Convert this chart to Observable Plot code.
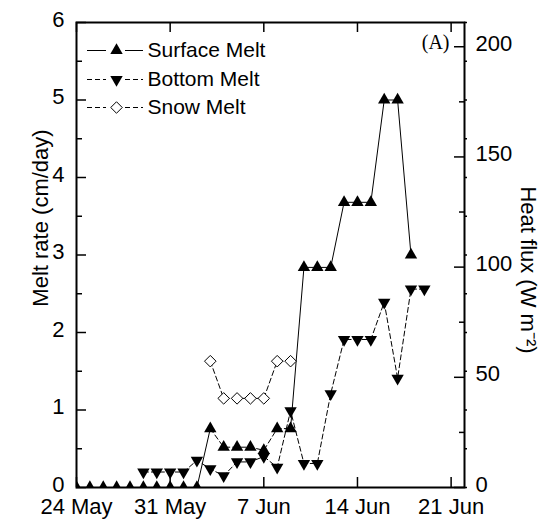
<!DOCTYPE html>
<html><head><meta charset="utf-8">
<script src="https://cdn.jsdelivr.net/npm/d3@7"></script>
<script src="https://cdn.jsdelivr.net/npm/@observablehq/plot@0.6"></script>
<style>body{margin:0;background:#fff}#chart{width:550px;height:520px}</style>
</head><body><div id="chart"></div>
<script>
// ---- data ----
const surfaceDates = ["2007-05-24","2007-05-25","2007-05-26","2007-05-27","2007-05-28","2007-05-29","2007-05-30","2007-05-31","2007-06-01","2007-06-02","2007-06-03","2007-06-04","2007-06-05","2007-06-06","2007-06-07","2007-06-08","2007-06-09","2007-06-10","2007-06-11","2007-06-12","2007-06-13","2007-06-14","2007-06-15","2007-06-16","2007-06-17","2007-06-18"];
const surfaceMelt = [0,0,0,0,0,0,0,0,0,0,0.76,0.52,0.52,0.52,0.48,0.76,0.76,2.84,2.84,2.84,3.68,3.68,3.68,5.0,5.0,3.0];
const bottomDates = ["2007-05-29","2007-05-30","2007-05-31","2007-06-01","2007-06-02","2007-06-03","2007-06-04","2007-06-05","2007-06-06","2007-06-07","2007-06-08","2007-06-09","2007-06-10","2007-06-11","2007-06-12","2007-06-13","2007-06-14","2007-06-15","2007-06-16","2007-06-17","2007-06-18","2007-06-19"];
const bottomMelt = [0.2,0.2,0.2,0.2,0.35,0.24,0.15,0.33,0.33,0.40,0.26,0.99,0.31,0.31,1.21,1.91,1.91,1.91,2.39,1.41,2.56,2.56];
const snowDates = ["2007-06-03","2007-06-04","2007-06-05","2007-06-06","2007-06-07","2007-06-08","2007-06-09"];
const snowMelt = [1.63,1.15,1.15,1.15,1.15,1.63,1.63];
const xTickDates = ["2007-05-24","2007-05-31","2007-06-07","2007-06-14","2007-06-21"];
const xDomainDates = ["2007-05-24","2007-06-22"];
const yTicks = [0,1,2,3,4,5,6];
const yMinorTicks = [0.5,1.5,2.5,3.5,4.5,5.5];
const heatTicks = [0,50,100,150,200];
const heatMinorTicks = [25,75,125,175];
const heatPerCm = 211/6; // W m^-2 per cm/day (right axis scale)
const dashedSurfaceSpan = ["2007-06-03","2007-06-09"];
const legendLabels = ["Surface Melt","Bottom Melt","Snow Melt"];

// ---- build ----
const parse = d3.utcParse("%Y-%m-%d");
const rows = (ds, vs) => ds.map((d,i)=>({date: parse(d), v: vs[i]}));
const surface = rows(surfaceDates, surfaceMelt);
const bottom = rows(bottomDates, bottomMelt);
const snow = rows(snowDates, snowMelt);
const xTicks = xTickDates.map(parse);
const [dA, dB] = dashedSurfaceSpan.map(parse);
const surfA = surface.filter(d => d.date <= dA);
const surfB = surface.filter(d => d.date >= dA && d.date <= dB);
const surfC = surface.filter(d => d.date >= dB);

const W = 550, H = 520, mL = 76, mR = 86, mT = 22, mB = 33;
const iW = W - mL - mR, iH = H - mT - mB;
const yTop = 6;

const triDown = {draw(ctx, size){const y = Math.sqrt(size/(3*Math.sqrt(3))); ctx.moveTo(0, 2*y); ctx.lineTo(Math.sqrt(3)*y, -y); ctx.lineTo(-Math.sqrt(3)*y, -y); ctx.closePath();}};
const triUp = {draw(ctx, size){const y = Math.sqrt(size/(3*Math.sqrt(3))); ctx.moveTo(0, -2*y); ctx.lineTo(Math.sqrt(3)*y, y); ctx.lineTo(-Math.sqrt(3)*y, y); ctx.closePath();}};
const diamond = {draw(ctx, size){const h = Math.sqrt(size/2); ctx.moveTo(0,-h); ctx.lineTo(h,0); ctx.lineTo(0,h); ctx.lineTo(-h,0); ctx.closePath();}};

const dash = "5,3";
const R = 4.6;
const font = 22;

const legendStyles = [
  {symbol: triUp, fill: "black", dash: null},
  {symbol: triDown, fill: "black", dash: dash},
  {symbol: diamond, fill: "white", dash: dash}
];
const legendDy = [28, 57, 85];

const legendMarks = legendLabels.flatMap((lab, i) => {
  const s = legendStyles[i];
  return [
    Plot.ruleY([yTop], {dy: legendDy[i], insetLeft: 11, insetRight: iW - 30, stroke: "black", strokeWidth: 1, strokeDasharray: s.dash}),
    Plot.ruleY([yTop], {dy: legendDy[i], insetLeft: 49, insetRight: iW - 67, stroke: "black", strokeWidth: 1, strokeDasharray: s.dash}),
    Plot.dot([lab], {frameAnchor: "top-left", dx: 40, dy: legendDy[i], symbol: s.symbol, r: R, fill: s.fill, stroke: "black", strokeWidth: s.fill === "white" ? 1 : 0}),
    Plot.text([lab], {frameAnchor: "top-left", dx: 71, dy: legendDy[i], text: d => d, textAnchor: "start", lineAnchor: "middle", fontSize: 21, fill: "black"})
  ];
});

const chart = Plot.plot({
  width: W, height: H,
  marginLeft: mL, marginRight: mR, marginTop: mT, marginBottom: mB,
  style: {fontFamily: "'Liberation Sans', Arial, sans-serif", background: "white", color: "black", overflow: "visible"},
  x: {type: "utc", domain: xDomainDates.map(parse)},
  y: {domain: [0, 6]},
  marks: [
    // axes labels
    Plot.axisX({ticks: xTicks, tickFormat: d3.utcFormat("%-d %b"), tickSize: 0, tickPadding: 11, fontSize: font, label: null}),
    Plot.axisY({anchor: "left", ticks: yTicks, tickFormat: d3.format("d"), tickSize: 0, tickPadding: 12, dy: -3, fontSize: font, label: null}),
    Plot.axisY({anchor: "right", ticks: heatTicks.map(w => w/heatPerCm), tickFormat: d => Math.round(d*heatPerCm), tickSize: 0, tickPadding: 11, dy: -3, fontSize: font, label: null}),
    // inward ticks
    Plot.tickY(yTicks, {y: d => d, insetRight: iW - 10, stroke: "black", strokeWidth: 1.5}),
    Plot.tickY(yMinorTicks, {y: d => d, insetRight: iW - 6, stroke: "black", strokeWidth: 1.5}),
    Plot.tickY(heatTicks.map(w => w/heatPerCm), {y: d => d, insetLeft: iW - 10, stroke: "black", strokeWidth: 1.5}),
    Plot.tickY(heatMinorTicks.map(w => w/heatPerCm), {y: d => d, insetLeft: iW - 5, stroke: "black", strokeWidth: 1.5}),
    Plot.tickY(yMinorTicks.concat(yTicks), {y: d => d, insetLeft: iW, insetRight: -3, stroke: "black", strokeWidth: 1.5}),
    Plot.tickX(xTicks, {x: d => d, insetTop: iH - 10, stroke: "black", strokeWidth: 1.5}),
    Plot.tickX(xTicks, {x: d => d, insetBottom: iH - 10, stroke: "black", strokeWidth: 1.5}),
    // series lines
    Plot.line(snow, {x: "date", y: "v", stroke: "black", strokeWidth: 1, strokeDasharray: dash}),
    Plot.line(bottom, {x: "date", y: "v", stroke: "black", strokeWidth: 1, strokeDasharray: dash}),
    Plot.line(surfA, {x: "date", y: "v", stroke: "black", strokeWidth: 1}),
    Plot.line(surfB, {x: "date", y: "v", stroke: "black", strokeWidth: 1, strokeDasharray: dash}),
    Plot.line(surfC, {x: "date", y: "v", stroke: "black", strokeWidth: 1}),
    // markers
    Plot.dot(snow, {x: "date", y: "v", symbol: diamond, r: R, fill: "white", stroke: "black", strokeWidth: 1, clip: true}),
    Plot.dot(bottom, {x: "date", y: "v", symbol: triDown, r: R, fill: "black", clip: true}),
    Plot.dot(surface, {x: "date", y: "v", symbol: triUp, r: R, fill: "black", clip: true}),
    Plot.frame({stroke: "black", strokeWidth: 2}),
    // titles
    Plot.text(["Melt rate (cm/day)"], {frameAnchor: "left", dx: -36, dy: -37, rotate: -90, text: d => d, textAnchor: "middle", lineAnchor: "middle", fontSize: font, fill: "black"}),
    Plot.text(["Heat flux (W m\u207B\u00B2)"], {frameAnchor: "right", dx: 64, dy: 15, rotate: 90, text: d => d, textAnchor: "middle", lineAnchor: "middle", fontSize: font, fill: "black"}),
    Plot.text(["(A)"], {frameAnchor: "top-right", dx: -15, dy: 20, text: d => d, textAnchor: "end", lineAnchor: "middle", fontSize: 20, fontFamily: "'Liberation Serif', 'Times New Roman', serif", fill: "black"}),
    ...legendMarks
  ]
});
document.getElementById("chart").appendChild(chart);
</script>
</body></html>
